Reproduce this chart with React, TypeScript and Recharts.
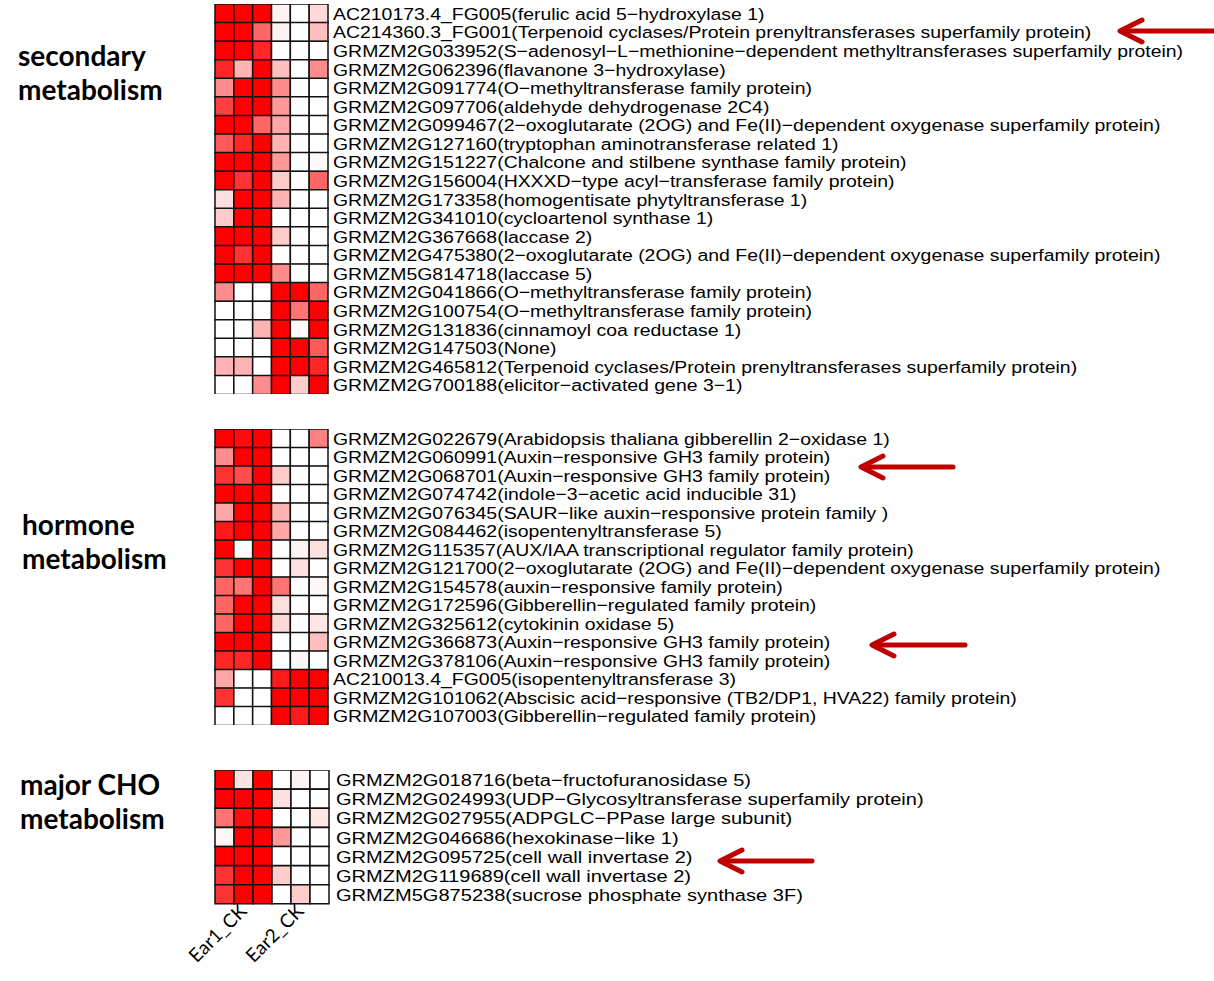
// Heatmap of gene expression for three metabolism groups, drawn as stacked unit bars.

import { BarChart, Bar, Cell, XAxis, YAxis } from "recharts";

const COLUMNS = ["c0", "c1", "c2", "c3", "c4", "c5"];
const EAR_TICKS = [1.5, 4.5];
const EAR_LABELS = ["Ear1_CK", "Ear2_CK"];

const secondaryGenes = [
  "AC210173.4_FG005(ferulic acid 5−hydroxylase 1)",
  "AC214360.3_FG001(Terpenoid cyclases/Protein prenyltransferases superfamily protein)",
  "GRMZM2G033952(S−adenosyl−L−methionine−dependent methyltransferases superfamily protein)",
  "GRMZM2G062396(flavanone 3−hydroxylase)",
  "GRMZM2G091774(O−methyltransferase family protein)",
  "GRMZM2G097706(aldehyde dehydrogenase 2C4)",
  "GRMZM2G099467(2−oxoglutarate (2OG) and Fe(II)−dependent oxygenase superfamily protein)",
  "GRMZM2G127160(tryptophan aminotransferase related 1)",
  "GRMZM2G151227(Chalcone and stilbene synthase family protein)",
  "GRMZM2G156004(HXXXD−type acyl−transferase family protein)",
  "GRMZM2G173358(homogentisate phytyltransferase 1)",
  "GRMZM2G341010(cycloartenol synthase 1)",
  "GRMZM2G367668(laccase 2)",
  "GRMZM2G475380(2−oxoglutarate (2OG) and Fe(II)−dependent oxygenase superfamily protein)",
  "GRMZM5G814718(laccase 5)",
  "GRMZM2G041866(O−methyltransferase family protein)",
  "GRMZM2G100754(O−methyltransferase family protein)",
  "GRMZM2G131836(cinnamoyl coa reductase 1)",
  "GRMZM2G147503(None)",
  "GRMZM2G465812(Terpenoid cyclases/Protein prenyltransferases superfamily protein)",
  "GRMZM2G700188(elicitor−activated gene 3−1)",
];

const secondaryValues = [
  [1, 1, 1, 0.05, 0, 0.15],
  [1, 1, 0.6, 0.05, 0, 0.25],
  [1, 1, 0.85, 0, 0, 0],
  [0.85, 0.3, 1, 0.25, 0, 0.45],
  [0.45, 1, 1, 0.45, 0, 0],
  [0.75, 1, 1, 0.4, 0, 0],
  [1, 1, 0.6, 0.35, 0, 0],
  [0.65, 0.85, 1, 0.3, 0, 0],
  [1, 1, 1, 0.4, 0, 0.02],
  [1, 0.8, 1, 0.2, 0, 0.6],
  [0.12, 1, 1, 0.3, 0, 0],
  [0.2, 1, 1, 0, 0, 0],
  [1, 1, 1, 0.2, 0, 0],
  [1, 0.8, 1, 0, 0, 0],
  [1, 1, 1, 0.45, 0, 0],
  [0.45, 0, 0, 1, 1, 0.6],
  [0, 0, 0, 1, 0.55, 1],
  [0, 0, 0.3, 1, 0.02, 1],
  [0, 0, 0, 1, 1, 0.65],
  [0.3, 0.3, 0, 1, 1, 0.85],
  [0, 0, 0.45, 1, 0.2, 1],
];

const hormoneGenes = [
  "GRMZM2G022679(Arabidopsis thaliana gibberellin 2−oxidase 1)",
  "GRMZM2G060991(Auxin−responsive GH3 family protein)",
  "GRMZM2G068701(Auxin−responsive GH3 family protein)",
  "GRMZM2G074742(indole−3−acetic acid inducible 31)",
  "GRMZM2G076345(SAUR−like auxin−responsive protein family )",
  "GRMZM2G084462(isopentenyltransferase 5)",
  "GRMZM2G115357(AUX/IAA transcriptional regulator family protein)",
  "GRMZM2G121700(2−oxoglutarate (2OG) and Fe(II)−dependent oxygenase superfamily protein)",
  "GRMZM2G154578(auxin−responsive family protein)",
  "GRMZM2G172596(Gibberellin−regulated family protein)",
  "GRMZM2G325612(cytokinin oxidase 5)",
  "GRMZM2G366873(Auxin−responsive GH3 family protein)",
  "GRMZM2G378106(Auxin−responsive GH3 family protein)",
  "AC210013.4_FG005(isopentenyltransferase 3)",
  "GRMZM2G101062(Abscisic acid−responsive (TB2/DP1, HVA22) family protein)",
  "GRMZM2G107003(Gibberellin−regulated family protein)",
];

const hormoneValues = [
  [1, 0.95, 1, 0, 0, 0.5],
  [0.45, 1, 1, 0, 0, 0],
  [0.8, 0.7, 1, 0.2, 0, 0],
  [1, 1, 1, 0, 0, 0],
  [0.35, 1, 1, 0.3, 0, 0],
  [0.9, 1, 1, 0.35, 0, 0],
  [1, 0, 1, 0, 0.05, 0.12],
  [0.8, 1, 1, 0, 0.12, 0],
  [0.6, 0.55, 1, 0.55, 0, 0.03],
  [0.6, 1, 1, 0.12, 0, 0],
  [0.6, 1, 1, 0.15, 0, 0.1],
  [1, 1, 1, 0, 0, 0.25],
  [0.85, 0.85, 1, 0, 0.03, 0],
  [0.35, 0, 0, 0.9, 1, 1],
  [0.8, 0, 0, 1, 1, 1],
  [0, 0, 0, 1, 0.9, 1],
];

const choGenes = [
  "GRMZM2G018716(beta−fructofuranosidase 5)",
  "GRMZM2G024993(UDP−Glycosyltransferase superfamily protein)",
  "GRMZM2G027955(ADPGLC−PPase large subunit)",
  "GRMZM2G046686(hexokinase−like 1)",
  "GRMZM2G095725(cell wall invertase 2)",
  "GRMZM2G119689(cell wall invertase 2)",
  "GRMZM5G875238(sucrose phosphate synthase 3F)",
];

const choValues = [
  [1, 0.12, 1, 0, 0.05, 0],
  [1, 1, 1, 0.12, 0, 0],
  [0.55, 0.95, 1, 0, 0, 0.1],
  [0.03, 1, 1, 0.4, 0, 0],
  [1, 1, 1, 0, 0, 0],
  [0.8, 1, 1, 0.2, 0, 0],
  [0.8, 1, 1, 0, 0.2, 0],
];

function heat(v: number): string {
  const gb = Math.round(255 * (1 - v));
  return `rgb(255,${gb},${gb})`;
}

const LABEL_FONT = "'Liberation Sans', Arial, sans-serif";
const GROUP_FONT = "Lato, 'Open Sans', sans-serif";

// the source figure is a bit stretched sideways, so the gene names are too
function GeneTick({ x, y, payload, stretch }: any) {
  return (
    <text
      transform={`translate(${x},${y}) scale(${stretch},1)`}
      dy={6.5}
      textAnchor="start"
      fontFamily={LABEL_FONT}
      fontSize={17}
      fill="#000"
    >
      {payload.value}
    </text>
  );
}

function EarTick({ x, y, payload }: any) {
  const idx = EAR_TICKS.indexOf(payload.value);
  return (
    <g transform={`translate(${x - 2},${y})`}>
      <text
        transform="rotate(-45)"
        textAnchor="end"
        dy={9}
        fontFamily={GROUP_FONT}
        fontSize={19}
        fill="#000"
      >
        {EAR_LABELS[idx]}
      </text>
    </g>
  );
}

interface PanelProps {
  genes: string[];
  values: number[][];
  top: number;
  height: number;
  cellsWidth: number;
  stretch: number;
  gap: number;
  showEars?: boolean;
}

function HeatPanel({ genes, values, top, height, cellsWidth, stretch, gap, showEars }: PanelProps) {
  const rows = genes.map((gene) => ({ gene, c0: 1, c1: 1, c2: 1, c3: 1, c4: 1, c5: 1 }));
  const axisW = 885;
  const padLeft = 60;
  const xAxisH = showEars ? 75 : 0;
  return (
    <div style={{ position: "absolute", left: 215 - padLeft, top }}>
      <BarChart
        layout="vertical"
        width={padLeft + cellsWidth + axisW}
        height={height + xAxisH}
        data={rows}
        margin={{ top: 0, right: 0, bottom: 0, left: padLeft }}
        barCategoryGap={0}
        barGap={0}
      >
        <XAxis
          type="number"
          domain={[0, 6]}
          ticks={EAR_TICKS}
          hide={!showEars}
          height={xAxisH}
          axisLine={false}
          tickLine={false}
          tickSize={0}
          tick={<EarTick />}
          interval={0}
        />
        <YAxis
          type="category"
          dataKey="gene"
          orientation="right"
          width={axisW}
          axisLine={false}
          tickLine={false}
          tickSize={0}
          tickMargin={gap}
          interval={0}
          tick={<GeneTick stretch={stretch} />}
        />
        {COLUMNS.map((key, j) => (
          <Bar
            key={key}
            dataKey={key}
            stackId="cells"
            stroke="#111"
            strokeWidth={1.5}
            isAnimationActive={false}
          >
            {values.map((r, i) => (
              <Cell key={i} fill={heat(r[j])} />
            ))}
          </Bar>
        ))}
      </BarChart>
    </div>
  );
}

function GroupLabel({ lines, left, top }: { lines: string[]; left: number; top: number }) {
  return (
    <div
      style={{
        position: "absolute",
        left,
        top,
        fontFamily: GROUP_FONT,
        fontWeight: "bold",
        fontSize: 28,
        lineHeight: "34px",
        color: "#000",
      }}
    >
      {lines.map((l) => (
        <div key={l}>{l}</div>
      ))}
    </div>
  );
}

const ARROWS = [
  { tip: 1120, tail: 1214, y: 31 },
  { tip: 861, tail: 953, y: 467 },
  { tip: 872, tail: 965, y: 645 },
  { tip: 720, tail: 812, y: 861 },
];

export default function App() {
  return (
    <div style={{ position: "absolute", left: 0, top: 0, width: 1214, height: 981, background: "#fff" }}>
      <HeatPanel genes={secondaryGenes} values={secondaryValues} top={4} height={390} cellsWidth={113} stretch={1.144} gap={5} />
      <HeatPanel genes={hormoneGenes} values={hormoneValues} top={429} height={296} cellsWidth={113} stretch={1.144} gap={5} />
      <HeatPanel genes={choGenes} values={choValues} top={770} height={134} cellsWidth={114} stretch={1.18} gap={7} showEars />
      <GroupLabel lines={["secondary", "metabolism"]} left={18} top={38} />
      <GroupLabel lines={["hormone", "metabolism"]} left={22} top={507} />
      <GroupLabel lines={["major CHO", "metabolism"]} left={20} top={767} />
      <svg
        width={1214}
        height={981}
        style={{ position: "absolute", left: 0, top: 0, pointerEvents: "none" }}
      >
        {ARROWS.map((a, i) => (
          <g key={i} stroke="#C00000" strokeWidth={5} fill="none" strokeLinecap="round" strokeLinejoin="round">
            <line x1={a.tail} y1={a.y} x2={a.tip + 3} y2={a.y} />
            <polyline points={`${a.tip + 22},${a.y - 11} ${a.tip},${a.y} ${a.tip + 22},${a.y + 11}`} />
          </g>
        ))}
      </svg>
    </div>
  );
}
